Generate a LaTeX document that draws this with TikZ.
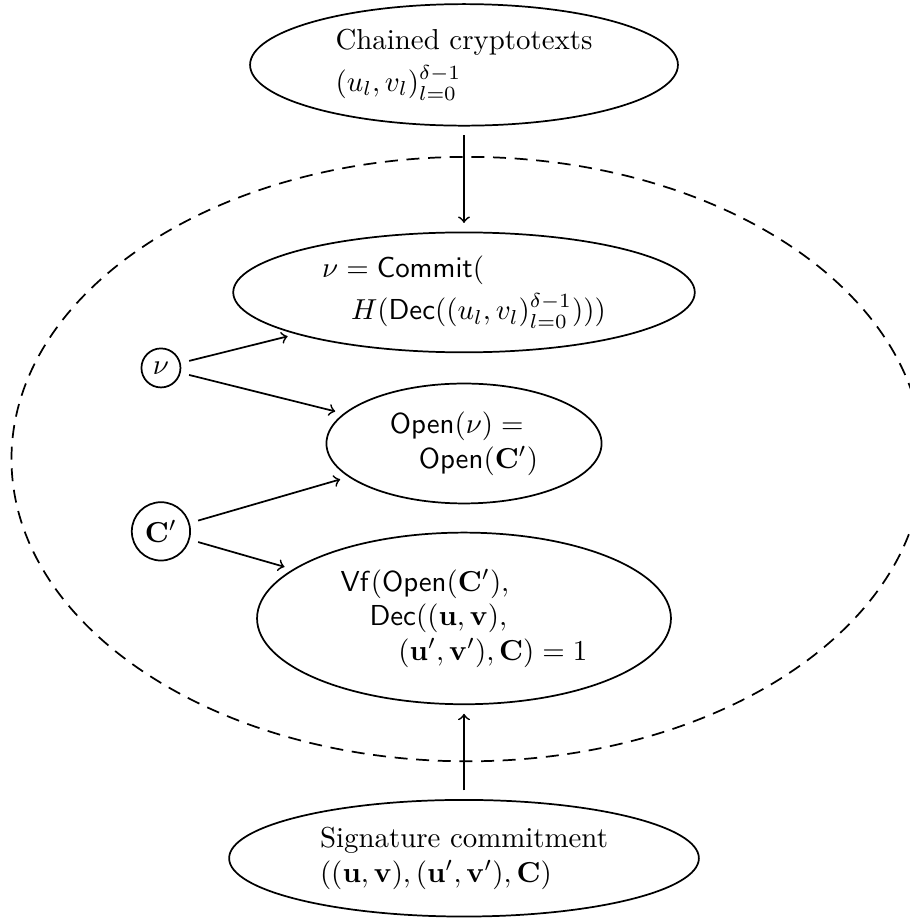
\documentclass[tikz,border=0pt]{standalone}
\usepackage{amsmath}
\usepackage{amsfonts}
\usepackage{xcolor}
\usepackage{tikz}
\usetikzlibrary{positioning,shapes,arrows}

\tikzset{
  stage/.style={ellipse,draw=black,line width=0.6pt,inner sep=1pt,align=left},
  token/.style={circle,draw=black,line width=0.6pt,inner sep=0pt},
  link/.style={draw=black,->,line width=0.6pt,shorten >=3pt,shorten <=3pt}
}

\begin{document}
\begin{tikzpicture}
            \useasboundingbox (-5.65,-5.60) rectangle (5.43,5.59);
            % the dashed region
            \path[draw=black,line width=0.6pt,dash pattern=on 4.5pt off 3pt]
                 (0.04,0) ellipse [x radius=5.55cm,y radius=3.68cm];
            \node[stage,minimum width=5.21cm,minimum height=1.48cm] (chain) at (0,4.80)
                 {Chained cryptotexts\\[2.5pt]$(u_l,v_l)_{l=0}^{\delta-1}$};
            \node[stage,minimum width=5.62cm,minimum height=1.46cm] (commit) at (0,2.03)
                 {$\nu=\mathsf{Commit}($\\[2.5pt]
                  \quad$H(\mathsf{Dec}((u_l,v_l)_{l=0}^{\delta-1})))$};
            \node[stage,minimum width=3.35cm,minimum height=1.46cm] (open) at (0,0.19)
                 {$\mathsf{Open}(\nu)=$\\
                  \quad$\mathsf{Open}(\mathbf{C}')$};
            \node[stage,minimum width=5.04cm,minimum height=2.09cm] (verify) at (0,-1.94)
                 {$\mathsf{Vf}(\mathsf{Open}(\mathbf{C}'),$\\
                  \quad$\mathsf{Dec}((\mathbf{u},\mathbf{v}),$\\
                  \qquad$(\mathbf{u}',\mathbf{v}'),\mathbf{C})=1$};
            \node[stage,minimum width=5.72cm,minimum height=1.42cm] (sig) at (0,-4.86)
                 {Signature commitment\\$((\mathbf{u},\mathbf{v}),(\mathbf{u}',\mathbf{v}'),\mathbf{C})$};
            \node[token,minimum size=0.475cm] (nu) at (-3.69,1.11) {$\nu$};
            \node[token,minimum size=0.71cm] (cp) at (-3.69,-0.88) {$\mathbf{C}'$};
            \path[link] (chain) -- (commit);
            \path[link] (sig) -- (verify);
            \path[link] (nu) -- (commit);
            \path[link] (nu) -- (open);
            \path[link] (cp) -- (open);
            \path[link] (cp) -- (verify);
\end{tikzpicture}
\end{document}
